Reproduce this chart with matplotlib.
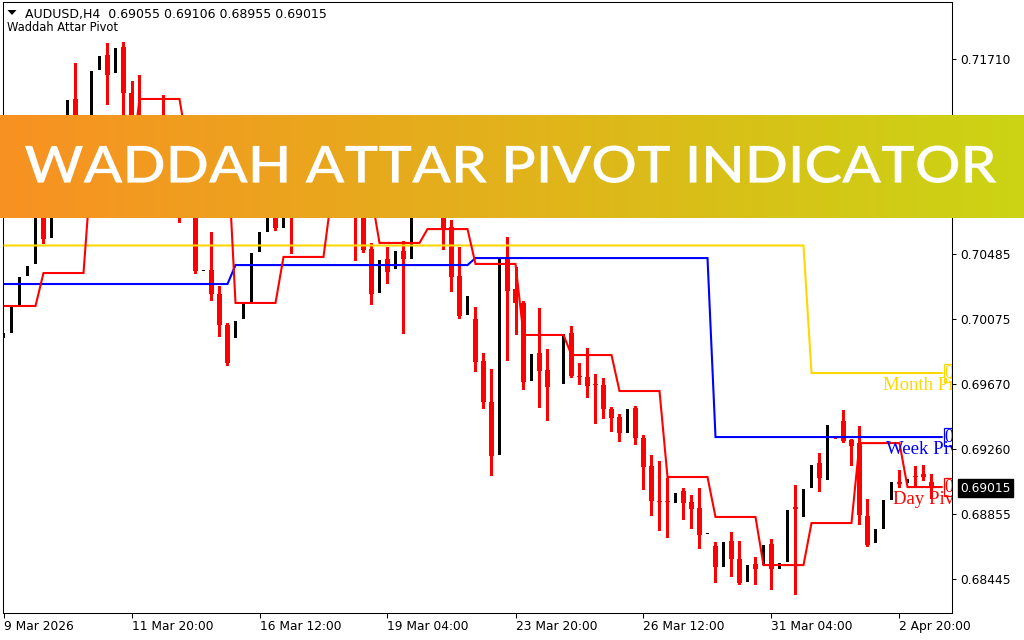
import numpy as np
import matplotlib
matplotlib.use("Agg")
import matplotlib.pyplot as plt
from matplotlib.patches import PathPatch, Polygon
from matplotlib.textpath import TextPath
from matplotlib.font_manager import FontProperties
from matplotlib.transforms import Affine2D, blended_transform_factory

# ---------------- data (AUDUSD H4) ----------------
opens = [0.69958, 0.69989, 0.70165, 0.70347, 0.70423, 0.70856, 0.70586, 0.70950, 0.71201, 0.71459,
         0.71139, 0.71296, 0.71641, 0.71735, 0.71622, 0.71785, 0.71497, 0.71233, 0.71139, 0.71264,
         0.71076, 0.70950, 0.71044, 0.70825, 0.70919, 0.70379, 0.70385, 0.70234, 0.70040, 0.69958,
         0.70077, 0.70184, 0.70498, 0.70624, 0.70793, 0.70649, 0.70856, 0.70762, 0.70982, 0.70887,
         0.71076, 0.71201, 0.71044, 0.70950, 0.71076, 0.70887, 0.70517, 0.70241, 0.70454, 0.70391,
         0.70504, 0.70454, 0.70825, 0.70730, 0.70919, 0.70825, 0.70655, 0.70347, 0.70102, 0.70077,
         0.69813, 0.69556, 0.69223, 0.70454, 0.70266, 0.70178, 0.69688, 0.69864, 0.69757, 0.69978,
         0.69669, 0.69989, 0.69719, 0.69713, 0.69669, 0.69663, 0.69512, 0.69462, 0.69361, 0.69518,
         0.69330, 0.69154, 0.68934, 0.68934, 0.68922, 0.68997, 0.68928, 0.68890, 0.68727, 0.68652,
         0.68520, 0.68683, 0.68570, 0.68426, 0.68539, 0.68532, 0.68664, 0.68507, 0.68551, 0.68897,
         0.68834, 0.69016, 0.69173, 0.69066, 0.69337, 0.69437, 0.69317, 0.69298, 0.68840, 0.68671,
         0.68758, 0.68941, 0.69054, 0.69047, 0.69091, 0.69104, 0.69055]
highs = [0.70002, 0.70165, 0.70354, 0.70423, 0.70887, 0.70919, 0.70982, 0.71264, 0.71465, 0.71685,
         0.71340, 0.71647, 0.71741, 0.71811, 0.71792, 0.71817, 0.71572, 0.71610, 0.71371, 0.71296,
         0.71484, 0.71076, 0.71076, 0.70950, 0.70950, 0.70391, 0.70624, 0.70284, 0.70052, 0.70077,
         0.70184, 0.70504, 0.70636, 0.70825, 0.70825, 0.70887, 0.70919, 0.71013, 0.71044, 0.71107,
         0.71233, 0.71264, 0.71139, 0.71139, 0.71139, 0.70950, 0.70555, 0.70460, 0.70529, 0.70517,
         0.70567, 0.70856, 0.70887, 0.70950, 0.70982, 0.70887, 0.70699, 0.70529, 0.70234, 0.70153,
         0.69864, 0.69763, 0.70473, 0.70592, 0.70404, 0.70190, 0.69870, 0.70146, 0.69889, 0.69980,
         0.69989, 0.70033, 0.69801, 0.69895, 0.69732, 0.69707, 0.69525, 0.69481, 0.69525, 0.69531,
         0.69349, 0.69223, 0.69185, 0.69079, 0.68997, 0.69016, 0.68972, 0.69016, 0.68740, 0.68677,
         0.68689, 0.68740, 0.68683, 0.68545, 0.68583, 0.68671, 0.68696, 0.68557, 0.68890, 0.69035,
         0.69022, 0.69173, 0.69236, 0.69424, 0.69340, 0.69506, 0.69324, 0.69405, 0.68947, 0.68771,
         0.68953, 0.69066, 0.69129, 0.69085, 0.69154, 0.69160, 0.69106]
lows = [0.69945, 0.69977, 0.70153, 0.70335, 0.70410, 0.70555, 0.70573, 0.70919, 0.71170, 0.71107,
        0.71076, 0.71264, 0.71628, 0.71427, 0.71603, 0.71327, 0.71201, 0.71076, 0.71044, 0.71013,
        0.70887, 0.70856, 0.70686, 0.70762, 0.70366, 0.70372, 0.70197, 0.69970, 0.69788, 0.69945,
        0.70065, 0.70171, 0.70485, 0.70611, 0.70636, 0.70636, 0.70492, 0.70730, 0.70825, 0.70856,
        0.71013, 0.71013, 0.70887, 0.70887, 0.70448, 0.70498, 0.70171, 0.70228, 0.70303, 0.70379,
        0.69989, 0.70441, 0.70718, 0.70718, 0.70762, 0.70517, 0.70253, 0.70084, 0.70090, 0.69751,
        0.69518, 0.69098, 0.69211, 0.69820, 0.69983, 0.69638, 0.69675, 0.69525, 0.69443, 0.69974,
        0.69656, 0.69713, 0.69669, 0.69587, 0.69424, 0.69456, 0.69374, 0.69311, 0.69349, 0.69292,
        0.69010, 0.68846, 0.68752, 0.68708, 0.68909, 0.68821, 0.68765, 0.68639, 0.68721, 0.68426,
        0.68507, 0.68463, 0.68413, 0.68413, 0.68413, 0.68520, 0.68382, 0.68495, 0.68539, 0.68350,
        0.68821, 0.69003, 0.68997, 0.69054, 0.69333, 0.69305, 0.69160, 0.68790, 0.68652, 0.68658,
        0.68746, 0.68928, 0.69022, 0.69035, 0.69028, 0.69066, 0.68955]
closes = [0.69989, 0.70153, 0.70341, 0.70410, 0.70856, 0.70580, 0.70950, 0.71201, 0.71453, 0.71139,
          0.71296, 0.71635, 0.71729, 0.71610, 0.71779, 0.71497, 0.71233, 0.71139, 0.71264, 0.71076,
          0.70950, 0.71044, 0.70825, 0.70919, 0.70379, 0.70385, 0.70234, 0.70040, 0.69801, 0.70065,
          0.70171, 0.70492, 0.70624, 0.70793, 0.70649, 0.70856, 0.70762, 0.70982, 0.70887, 0.71076,
          0.71201, 0.71044, 0.70950, 0.71076, 0.70887, 0.70511, 0.70234, 0.70448, 0.70372, 0.70504,
          0.70454, 0.70825, 0.70730, 0.70919, 0.70825, 0.70642, 0.70341, 0.70096, 0.70222, 0.69807,
          0.69556, 0.69217, 0.70460, 0.70253, 0.70178, 0.69682, 0.69857, 0.69751, 0.69650, 0.69976,
          0.69983, 0.69719, 0.69713, 0.69656, 0.69663, 0.69512, 0.69456, 0.69361, 0.69512, 0.69330,
          0.69148, 0.68934, 0.68928, 0.68928, 0.68985, 0.68922, 0.68884, 0.68721, 0.68733, 0.68520,
          0.68677, 0.68570, 0.68419, 0.68532, 0.68507, 0.68658, 0.68507, 0.68545, 0.68878, 0.68884,
          0.69010, 0.69160, 0.69079, 0.69412, 0.69335, 0.69311, 0.69280, 0.68846, 0.68658, 0.68758,
          0.68941, 0.69054, 0.69041, 0.69072, 0.69085, 0.69085, 0.69015]

# pivot levels per period and number of H4 bars in each period
day_pivots = [0.70159, 0.70366, 0.71044, 0.71459, 0.71157, 0.70178, 0.70467, 0.70850, 0.70555, 0.70642,
              0.70423, 0.69977, 0.69851, 0.69625, 0.69085, 0.68834, 0.68532, 0.68796, 0.69298, 0.69022]
day_bar_counts = [5, 6, 6, 6, 6, 6, 6, 6, 6, 6, 6, 6, 6, 6, 6, 6, 6, 6, 6, 4]
week_pivots = [0.70297, 0.70416, 0.70460, 0.69336]
week_bar_counts = [29, 30, 30, 28]
month_pivots = [0.70539, 0.69738]
month_bar_counts = [101, 16]

x_tick_bars = [0, 16, 32, 48, 64, 80, 96, 112]
x_tick_labels = ['9 Mar 2026', '11 Mar 20:00', '16 Mar 12:00', '19 Mar 04:00',
                 '23 Mar 20:00', '26 Mar 12:00', '31 Mar 04:00', '2 Apr 20:00']
price_ticks = [0.71710, 0.71300, 0.70895, 0.70485, 0.70075, 0.69670, 0.69260, 0.68855, 0.68445]
current_price = 0.69015
header = 'AUDUSD,H4  0.69055 0.69106 0.68955 0.69015'
indicator_name = 'Waddah Attar Pivot'
banner_title = 'WADDAH ATTAR PIVOT INDICATOR'

# ---------------- figure ----------------
W, H = 1024, 640
fig = plt.figure(figsize=(W / 100, H / 100), dpi=100)
fig.patch.set_facecolor('white')

L_PX, R_PX, T_PX, B_PX = 3, 952, 2, 613
ax = fig.add_axes([L_PX / W, 1 - B_PX / H, (R_PX - L_PX) / W, (B_PX - T_PX) / H])
ax.set_facecolor('white')
n = len(opens)
x = np.arange(n)
PX = 1 / 8.0  # one pixel in bar units
ax.set_xlim(-0.5 * PX, (R_PX - L_PX) * PX - 0.5 * PX)
y_lo, y_hi = 0.68231, 0.72068
ax.set_ylim(y_lo, y_hi)
ypx = (y_hi - y_lo) / (B_PX - T_PX)

o = np.array(opens); c = np.array(closes); h = np.array(highs); l = np.array(lows)
up = c > o
dn = ~up
RED = '#FF0000'
ax.vlines(x[dn], l[dn], h[dn], colors=RED, linewidth=0.75, antialiased=False, zorder=2)
ax.bar(x[dn], np.maximum(o[dn] - c[dn], ypx), bottom=np.minimum(o[dn], c[dn]), width=5.6 * PX,
       color=RED, linewidth=0, antialiased=False, zorder=3)
ax.bar(x[up], np.maximum(c[up] - o[up], ypx), bottom=o[up], width=3.5 * PX,
       color='black', linewidth=0, antialiased=False, zorder=3)

# pivot lines (extended a little beyond the last bar up to the labels)
x_ext = np.append(x, n + 0.4)
lines = [(month_pivots, month_bar_counts, '#FFD700'),
         (week_pivots, week_bar_counts, '#0000FF'),
         (day_pivots, day_bar_counts, RED)]
for vals, counts, col in lines:
    yv = np.repeat(vals, counts)
    ax.plot(x_ext, np.append(yv, yv[-1]), color=col, lw=1.5, zorder=5,
            solid_joinstyle='miter', solid_capstyle='butt')

# pivot labels at the right edge (clipped by the chart area)
serif = 'Liberation Serif'
labels = [(month_pivots[-1], '#FFD700', 'Month Pivot', 109.9),
          (week_pivots[-1], '#0000FF', 'Week Pivot', 110.3),
          (day_pivots[-1], RED, 'Day Pivot', 111.2)]
for val, col, name, nx in labels:
    ax.text(n + 0.62, val, f'{val:.5f}', color=col, family=serif, fontsize=13,
            va='center', ha='left', clip_on=True, zorder=6,
            bbox=dict(boxstyle='square,pad=0.05', fc='white', ec=col, lw=0.9))
    ax.text(nx, val - 4 * ypx, name, color=col, family=serif, fontsize=13.5,
            va='top', ha='left', clip_on=True, zorder=6)

# axes styling
for s in ax.spines.values():
    s.set_color('black'); s.set_linewidth(0.75)
ax.yaxis.tick_right()
ax.set_yticks(price_ticks)
ax.set_yticklabels([f'{v:.5f}' for v in price_ticks])
ax.tick_params(axis='y', which='both', left=False, right=True, length=3, width=0.75,
               pad=3, labelsize=8.8, colors='black')
ax.set_xticks(x_tick_bars)
ax.set_xticklabels(x_tick_labels, ha='left')
ax.tick_params(axis='x', length=3.5, width=0.75, pad=1.5, labelsize=8.8, colors='black')

# current price tag
trans = blended_transform_factory(ax.transAxes, ax.transData)
ax.text(1 + 8.5 / (R_PX - L_PX), current_price, f'{current_price:.5f}', transform=trans,
        color='white', fontsize=8.8, va='center', ha='left', clip_on=False, zorder=7,
        bbox=dict(boxstyle='square,pad=0.2', fc='black', ec='black'))

# header texts
fig.text(25 / W, 1 - 18 / H, header, fontsize=9, va='baseline', ha='left', color='black')
fig.text(7 / W, 1 - 31 / H, indicator_name, fontsize=8.3, va='baseline', ha='left', color='#000000')
tri = Polygon([[7.5 / W, 1 - 10 / H], [16.5 / W, 1 - 10 / H], [12 / W, 1 - 15 / H]],
              closed=True, transform=fig.transFigure, facecolor='black', edgecolor='none')
fig.add_artist(tri)

# banner with gradient
bax = fig.add_axes([0, 1 - 218.5 / H, 1, 103.5 / H], zorder=20)
bax.axis('off')
g = np.linspace(0, 1, 512)
left_c = np.array([248, 145, 34]) / 255.0
right_c = np.array([203, 212, 20]) / 255.0
img = left_c[None, :] * (1 - g[:, None]) + right_c[None, :] * g[:, None]
bax.imshow(img[None, :, :], aspect='auto', extent=[0, 1, 0, 1], interpolation='bilinear')
bax.set_xlim(0, 1); bax.set_ylim(0, 1)

fp = FontProperties(family='Lato', weight=600)
tp = TextPath((0, 0), banner_title, size=100, prop=fp)
ext = tp.get_extents()
tx0, tx1 = 25.0, 996.5
ty0, ty1 = H - 183.0, H - 145.5
tr = (Affine2D().translate(-ext.x0, -ext.y0)
      .scale((tx1 - tx0) / ext.width, (ty1 - ty0) / ext.height)
      .translate(tx0, ty0).scale(1 / W, 1 / H) + fig.transFigure)
fig.add_artist(PathPatch(tp, transform=tr, facecolor='white', edgecolor='none', zorder=30))

fig.savefig('out.png', dpi=100)
